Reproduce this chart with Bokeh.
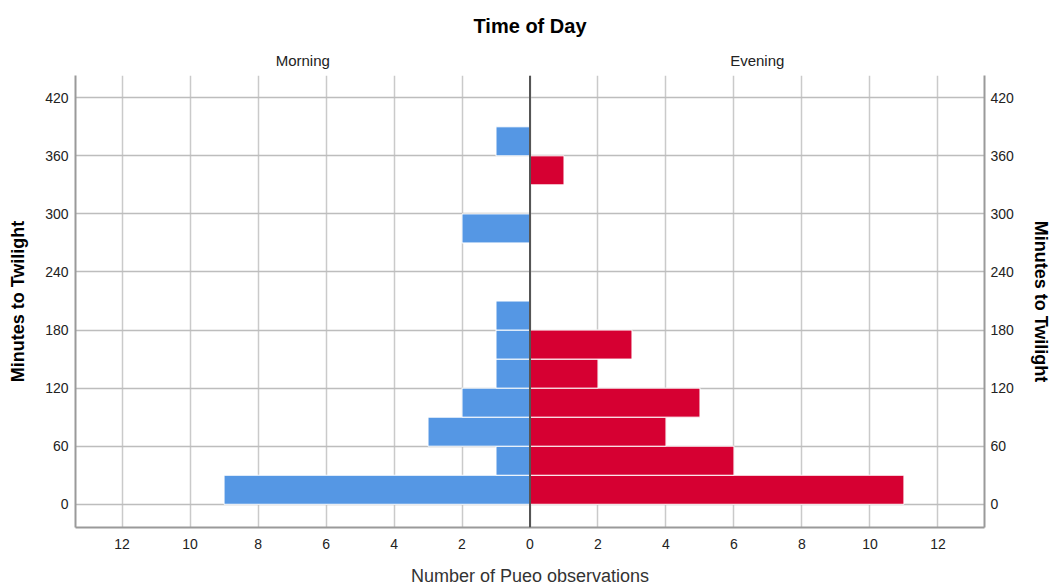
from bokeh.plotting import figure
from bokeh.models import (ColumnDataSource, LinearAxis, FixedTicker, Span, Range1d)
from bokeh.embed import file_html
from bokeh.resources import INLINE

# ---- data ----
bin_width = 30
bin_starts = [0, 30, 60, 90, 120, 150, 180, 210, 240, 270, 300, 330, 360]
morning_counts = [9, 1, 3, 2, 1, 1, 1, 0, 0, 2, 0, 0, 1]
evening_counts = [11, 6, 4, 5, 2, 3, 0, 0, 0, 0, 0, 1, 0]
x_tick_values = [-12, -10, -8, -6, -4, -2, 0, 2, 4, 6, 8, 10, 12]
y_tick_values = [0, 60, 120, 180, 240, 300, 360, 420]
panel_names = ["Morning", "Evening"]
chart_title = "Time of Day"
x_title = "Number of Pueo observations"
y_title = "Minutes to Twilight"

BLUE = "#5597e4"
RED = "#d60032"
FONT = "Liberation Sans"

X0, X1 = -13.37, 13.37
Y0, Y1 = -24, 443

m = [(b, c) for b, c in zip(bin_starts, morning_counts) if c > 0]
e = [(b, c) for b, c in zip(bin_starts, evening_counts) if c > 0]
src_m = ColumnDataSource(dict(left=[-c for b, c in m], right=[0] * len(m),
                              bottom=[b for b, c in m], top=[b + bin_width for b, c in m]))
src_e = ColumnDataSource(dict(left=[0] * len(e), right=[c for b, c in e],
                              bottom=[b for b, c in e], top=[b + bin_width for b, c in e]))

p = figure(width=1054, height=588, output_backend="svg", toolbar_location=None,
           x_range=Range1d(X0, X1), y_range=Range1d(Y0, Y1),
           min_border_left=75, min_border_right=70, min_border_top=75, min_border_bottom=61,
           x_axis_location=None, y_axis_location=None)
p.outline_line_color = None
p.background_fill_color = "white"
p.border_fill_color = "white"

p.title.text = chart_title
p.title.align = "center"
p.title.text_font = FONT
p.title.text_font_size = "20px"
p.title.text_font_style = "bold"
p.title.text_color = "#000000"
p.title.standoff = 23

p.quad(source=src_m, left="left", right="right", bottom="bottom", top="top",
       fill_color=BLUE, line_color="white", line_width=1)
p.quad(source=src_e, left="left", right="right", bottom="bottom", top="top",
       fill_color=RED, line_color="white", line_width=1)

xt = FixedTicker(ticks=x_tick_values)
yt = FixedTicker(ticks=y_tick_values)

def style_axis(ax, standoff):
    ax.major_tick_line_color = None
    ax.minor_tick_line_color = None
    ax.major_tick_out = 0
    ax.major_tick_in = 0
    ax.minor_tick_out = 0
    ax.minor_tick_in = 0
    ax.major_label_text_font = FONT
    ax.major_label_text_font_size = "14px"
    ax.major_label_text_color = "#222222"
    ax.major_label_standoff = standoff
    ax.axis_line_color = "#9a9a9a"
    ax.axis_line_width = 2

bottom = LinearAxis(ticker=xt, axis_label=x_title,
                    major_label_overrides={v: str(abs(v)) for v in x_tick_values})
style_axis(bottom, 11)
bottom.axis_label_standoff = 14
bottom.axis_label_text_font = FONT
bottom.axis_label_text_font_size = "18px"
bottom.axis_label_text_font_style = "normal"
bottom.axis_label_text_color = "#333333"
p.add_layout(bottom, "below")

left = LinearAxis(ticker=yt, axis_label=y_title)
style_axis(left, 7)
left.axis_label_standoff = 14
left.axis_label_text_font = FONT
left.axis_label_text_font_size = "18px"
left.axis_label_text_font_style = "bold"
left.axis_label_text_color = "#000000"
p.add_layout(left, "left")

right = LinearAxis(ticker=yt, axis_label=y_title)
style_axis(right, 6)
right.axis_label_standoff = 14
right.axis_label_text_font = FONT
right.axis_label_text_font_size = "18px"
right.axis_label_text_font_style = "bold"
right.axis_label_text_color = "#000000"
p.add_layout(right, "right")

mid_l = X0 / 2.0
mid_r = X1 / 2.0
top_ax = LinearAxis(ticker=FixedTicker(ticks=[mid_l, mid_r]),
                    major_label_overrides={mid_l: panel_names[0], mid_r: panel_names[1]})
top_ax.major_tick_line_color = None
top_ax.minor_tick_line_color = None
top_ax.major_tick_out = 0
top_ax.major_tick_in = 0
top_ax.minor_tick_out = 0
top_ax.minor_tick_in = 0
top_ax.axis_line_color = None
top_ax.major_label_text_font = FONT
top_ax.major_label_text_font_size = "15px"
top_ax.major_label_text_color = "#222222"
top_ax.major_label_standoff = 7
p.add_layout(top_ax, "above")

p.xgrid.ticker = xt
p.ygrid.ticker = yt
p.xgrid.grid_line_color = "#cacaca"
p.ygrid.grid_line_color = "#bdbdbd"
p.xgrid.grid_line_width = 1.5
p.ygrid.grid_line_width = 1.5

center = Span(location=0, dimension="height", line_color="#555555", line_width=2)
p.add_layout(center)

open("out.html", "w").write(file_html(p, INLINE))
